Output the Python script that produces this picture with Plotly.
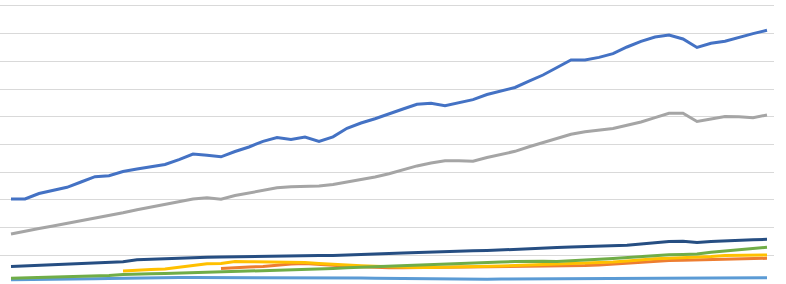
import plotly.graph_objects as go

# 55 yearly points (index 0..54); arbitrary units, gridline step = 1000
idx = list(range(55))

blue = [3032, 3032, 3231, 3332, 3455, 3646, 3837, 3870, 4025, 4115,
        4195, 4278, 4455, 4657, 4614, 4556, 4747, 4910, 5115, 5249,
        5180, 5271, 5108, 5278, 5585, 5776, 5928, 6119, 6281, 6451,
        6487, 6397, 6498, 6621, 6805, 6931, 7058, 7285, 7509, 7780,
        8050, 8050, 8144, 8281, 8520, 8725, 8881, 8953, 8808, 8502,
        8653, 8729, 8877, 9003, 9122]

gray = [1769, 1877, 1967, 2058, 2155, 2238, 2321, 2426, 2534, 2643,
        2736, 2841, 2939, 3032, 3076, 3025, 3159, 3249, 3336, 3437,
        3473, 3476, 3502, 3556, 3639, 3726, 3827, 3942, 4079, 4227,
        4332, 4411, 4415, 4393, 4531, 4642, 4754, 4917, 5068, 5216,
        5368, 5458, 5523, 5577, 5697, 5812, 5971, 6126, 6126, 5830,
        5920, 6011, 6003, 5967, 6065]

navy = [596, 614, 635, 657, 679, 700, 722, 744, 765, 838,
        859, 881, 903, 924, 928, 935, 946, 957, 967, 982,
        989, 993, 993, 993, 1004, 1022, 1043, 1061, 1083, 1101,
        1126, 1148, 1155, 1162, 1173, 1199, 1220, 1242, 1260, 1278,
        1296, 1307, 1321, 1336, 1361, 1408, 1458, 1502, 1509, 1462,
        1498, 1527, 1545, 1563, 1578]

yellow = [None] * 8 + [
        433, 469, 487, 505, 560, 632, 693, 704, 776, 769,
        765, 758, 765, 740, 704, 668, 639, 621, 603, 585,
        570, 560, 560, 567, 578, 588, 603, 614, 632, 650,
        661, 671, 686, 700, 722, 758, 794, 838, 877, 895,
        910, 931, 953, 989, 1004, 1011, 1011]

orange = [None] * 15 + [
        523, 560, 578, 592, 643, 686, 704, 686, 643, 603,
        578, 560, 552, 552, 556, 560, 563, 567, 570, 578,
        585, 588, 592, 599, 606, 614, 628, 650, 686, 729,
        765, 794, 812, 823, 834, 848, 866, 884, 888, 892]

green = [170, 181, 191, 206, 220, 235, 253, 271, 303, 325,
         332, 339, 354, 368, 375, 386, 397, 412, 426, 440,
         462, 484, 505, 523, 549, 570, 588, 614, 635, 653,
         671, 690, 704, 722, 740, 758, 773, 787, 787, 776,
         794, 830, 856, 888, 924, 960, 993, 1018, 1029, 1047,
         1112, 1155, 1199, 1245, 1289]

lightblue = [116, 119, 126, 134, 141, 148, 155, 166, 173, 199,
             199, 202, 199, 199, 199, 202, 199, 199, 199, 199,
             199, 199, 199, 191, 184, 177, 173, 166, 162, 152,
             144, 137, 134, 134, 137, 141, 144, 144, 148, 152,
             155, 159, 162, 166, 170, 173, 180, 180, 184, 184,
             188, 188, 188, 191, 191]

series = [
    ("Series 1", blue, "#4472C4"),
    ("Series 2", orange, "#ED7D31"),
    ("Series 3", gray, "#A5A5A5"),
    ("Series 4", yellow, "#FFC000"),
    ("Series 5", lightblue, "#5B9BD5"),
    ("Series 6", green, "#70AD47"),
    ("Series 7", navy, "#264E82"),
]

fig = go.Figure()
for name, vals, color in series:
    fig.add_trace(go.Scatter(
        x=idx, y=vals, name=name, mode="lines",
        line=dict(color=color, width=3),
        connectgaps=False,
    ))

fig.update_layout(
    width=786, height=284,
    margin=dict(l=0, r=12, t=4, b=0),
    paper_bgcolor="white", plot_bgcolor="white",
    showlegend=False,
    xaxis=dict(range=[-0.786, 54.5], showgrid=False, zeroline=False,
               showticklabels=False, showline=False, ticks=""),
    yaxis=dict(range=[-36, 10072], dtick=1000, tick0=0,
               gridcolor="#D9D9D9", gridwidth=1, zeroline=False,
               showticklabels=False, showline=False, ticks=""),
)

fig.write_html("out.html")
